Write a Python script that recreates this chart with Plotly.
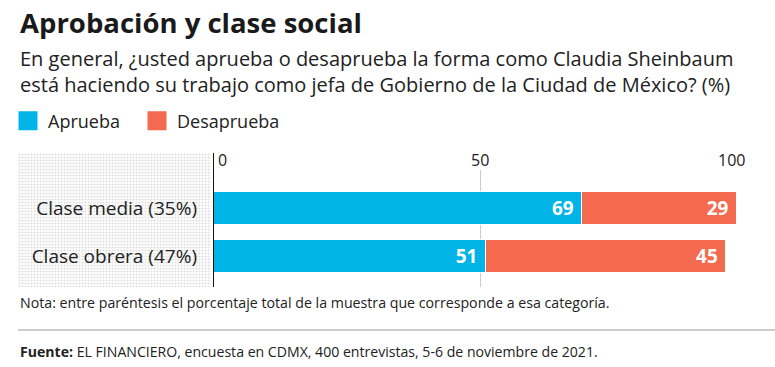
import plotly.graph_objects as go

categories = ["Clase media (35%)", "Clase obrera (47%)"]
aprueba = [69, 51]
desaprueba = [29, 45]
series_names = ["Aprueba", "Desaprueba"]
colors = ["#00b4e8", "#f46a4f"]
tick_vals = [0, 50, 100]
tick_text = ["0", "50", "100"]

W, H = 775, 367
ML, MR, MT, MB = 18, 28, 153, 80
PW = W - ML - MR
PH = H - MT - MB
x_main0 = (213 - ML) / PW
x_pat1 = (211 - ML) / PW
y_main1 = (287 - 170) / PH

FONT = "Open Sans"

def ypx(py):
    return (MT + PH - py) / PH

def xpx(px):
    return (px - ML) / PW

fig = go.Figure()

# dotted background panel behind category labels
fig.add_trace(go.Scatter(
    x=[0, 1, 1, 0, 0], y=[0, 0, 1, 1, 0], mode="lines",
    fill="toself", fillcolor="white", line=dict(width=0),
    fillpattern=dict(shape=".", fgcolor="#c0c0c0", bgcolor="white", size=3, solidity=0.4),
    xaxis="x", yaxis="y", showlegend=False, hoverinfo="skip",
))

vals = [aprueba, desaprueba]
legend_ids = ["legend", "legend2"]
for name, v, c, lg in zip(series_names, vals, colors, legend_ids):
    fig.add_trace(go.Bar(
        y=categories, x=v, orientation="h", name=name,
        marker=dict(color=c, line=dict(color="white", width=1)),
        width=0.67, text=v, texttemplate="<b>%{x}</b> ",
        textposition="inside", insidetextanchor="end",
        textfont=dict(color="white", size=19.5, family=FONT),
        xaxis="x2", yaxis="y2", showlegend=False,
    ))
    fig.add_trace(go.Scatter(
        x=[None], y=[None], mode="markers", name=name, legend=lg,
        marker=dict(symbol="square", size=16, color=c, line=dict(color=c, width=3)),
        xaxis="x2", yaxis="y2", showlegend=True,
    ))

legend_style = dict(orientation="h", yanchor="middle", xanchor="left",
                    font=dict(size=18, color="#222"), itemclick=False,
                    bgcolor="rgba(0,0,0,0)")

fig.update_layout(
    width=W, height=H,
    margin=dict(l=ML, r=MR, t=MT, b=MB, autoexpand=False),
    paper_bgcolor="white", plot_bgcolor="white",
    barmode="stack",
    font=dict(family=FONT, color="#222"),
    xaxis=dict(domain=[0, x_pat1], range=[0, 1], visible=False, fixedrange=True),
    yaxis=dict(domain=[0, 1], range=[0, 1], visible=False, fixedrange=True),
    xaxis2=dict(domain=[x_main0, 1], range=[0, 100], anchor="y2", side="top",
                tickvals=tick_vals, showticklabels=False, showgrid=True,
                gridcolor="#cccccc", gridwidth=1, zeroline=False, ticks="",
                showline=False, automargin=False),
    yaxis2=dict(domain=[0, y_main1], anchor="x2", categoryorder="array",
                categoryarray=categories, range=[1.646, -0.79], showgrid=False,
                zeroline=False, ticks="", ticklabelstandoff=15, automargin=False,
                tickfont=dict(size=19, color="#222"), showline=False),
    legend=dict(x=xpx(8), y=ypx(121), **legend_style),
    legend2=dict(x=xpx(137), y=ypx(121), **legend_style),
    bargap=0.3,
)

# tick labels for the top axis
anchors = ["left", "center", "right"]
for v, t, a in zip(tick_vals, tick_text, anchors):
    fig.add_annotation(text=t, xref="x2", yref="paper", x=v, y=ypx(160),
                       xanchor=a, yanchor="middle", showarrow=False,
                       xshift=3 if a == "left" else 0,
                       font=dict(size=16, color="#222", family=FONT))

# black zero line running up to the top of panel
fig.add_shape(type="line", xref="x2", yref="paper", x0=0, x1=0, y0=0, y1=1,
              line=dict(color="#111", width=2))
# separator line above source
fig.add_shape(type="line", xref="paper", yref="paper",
              x0=0, x1=(W - ML) / PW, y0=ypx(330), y1=ypx(330),
              line=dict(color="#999", width=1))

fig.add_annotation(text="<b>Aprobación y clase social</b>", xref="paper", yref="paper",
                   x=0, y=ypx(22), xanchor="left", yanchor="middle", showarrow=False,
                   font=dict(size=27.5, color="#1a1a1a", family=FONT))
fig.add_annotation(text="En general, ¿usted aprueba o desaprueba la forma como Claudia Sheinbaum<br>está haciendo su trabajo como jefa de Gobierno de la Ciudad de México? (%)",
                   xref="paper", yref="paper", x=0, y=ypx(72), xanchor="left", yanchor="middle",
                   align="left", showarrow=False, font=dict(size=20, color="#222", family=FONT))
fig.add_annotation(text="Nota: entre paréntesis el porcentaje total de la muestra que corresponde a esa categoría.",
                   xref="paper", yref="paper", x=0, y=ypx(302), xanchor="left", yanchor="middle",
                   showarrow=False, font=dict(size=14.2, color="#222", family=FONT))
fig.add_annotation(text="<b>Fuente:</b> EL FINANCIERO, encuesta en CDMX, 400 entrevistas, 5-6 de noviembre de 2021.",
                   xref="paper", yref="paper", x=0, y=ypx(351), xanchor="left", yanchor="middle",
                   showarrow=False, font=dict(size=14.1, color="#222", family=FONT))

fig.write_html("out.html", config={"displayModeBar": False},
               post_script="document.body.style.margin='0';")
